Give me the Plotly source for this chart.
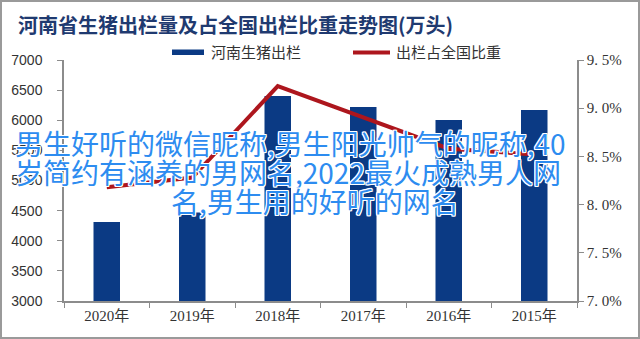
import plotly.graph_objects as go

categories = ["2020年", "2019年", "2018年", "2017年", "2016年", "2015年"]
output_vals = [4311, 4470, 6402, 6220, 6005, 6171]
share_vals = [8.18, 8.28, 9.23, 8.90, 8.58, 8.52]
left_ticks = [3000, 3500, 4000, 4500, 5000, 5500, 6000, 6500, 7000]
right_ticks = [7.0, 7.5, 8.0, 8.5, 9.0, 9.5]
right_labels = ["7. 0%", "7. 5%", "8. 0%", "8. 5%", "9. 0%", "9. 5%"]

W, H = 640, 339
L, R, T, B = 64, 577, 60, 301


def px(x):
    return (x - L) / (R - L)


def py(y):
    return (B - y) / (B - T)


BAR_C = "#0b3a84"
LINE_C = "#ad161d"
AX_C = "#8c8c8c"

fig = go.Figure()
fig.add_trace(go.Bar(x=categories, y=output_vals, marker=dict(color=BAR_C, line=dict(width=0)),
                     width=0.31, name="河南生猪出栏", showlegend=False))
fig.add_trace(go.Scatter(x=categories, y=share_vals, yaxis="y2", mode="lines",
                         line=dict(color=LINE_C, width=4), name="出栏占全国比重", showlegend=False))

shapes = []
# outer frame
shapes.append(dict(type="rect", xref="paper", yref="paper", x0=px(1), x1=px(639), y0=py(1), y1=py(338),
                   line=dict(color="#9a9a9a", width=2), fillcolor="rgba(0,0,0,0)", layer="above"))
# legend swatches
shapes.append(dict(type="rect", xref="paper", yref="paper", x0=px(172), x1=px(204), y0=py(49.5), y1=py(55),
                   line=dict(width=0), fillcolor=BAR_C))
shapes.append(dict(type="line", xref="paper", yref="paper", x0=px(353), x1=px(390), y0=py(52.5), y1=py(52.5),
                   line=dict(color=LINE_C, width=4)))

ann = []
ann.append(dict(text="<b>河南省生猪出栏量及占全国出栏比重走势图(万头)</b>", xref="paper", yref="paper",
                x=px(16), y=py(24), xanchor="left", yanchor="middle", showarrow=False,
                font=dict(family="Noto Sans CJK SC", size=20, color="#1f3a70")))
ann.append(dict(text="河南生猪出栏", xref="paper", yref="paper", x=px(209), y=py(52), xanchor="left",
                yanchor="middle", showarrow=False,
                font=dict(family="Noto Sans CJK SC", size=15, color="#333333")))
ann.append(dict(text="出栏占全国比重", xref="paper", yref="paper", x=px(394), y=py(52), xanchor="left",
                yanchor="middle", showarrow=False,
                font=dict(family="Noto Sans CJK SC", size=15, color="#333333")))

wm_font = dict(family="Noto Sans CJK SC", size=28, color="#2d8cf0",
               shadow="1px 1px 0 #fff, -1px -1px 0 #fff, 1px -1px 0 #fff, -1px 1px 0 #fff, 0 1px 0 #fff, 0 -1px 0 #fff, 1px 0 0 #fff, -1px 0 0 #fff")
wm_lines = [("男生好听的微信昵称,男生阳光帅气的昵称,40", 13, 143),
            ("岁简约有涵养的男网名,2022最火成熟男人网", 13, 172),
            ("名,男生用的好听的网名", 169, 201)]
for t, x0, y0 in wm_lines:
    ann.append(dict(text=t, xref="paper", yref="paper", x=px(x0), y=py(y0), xanchor="left",
                    yanchor="middle", showarrow=False, font=wm_font))

fig.update_layout(
    width=W, height=H,
    margin=dict(l=L, r=W - R, t=T, b=H - B, pad=0),
    paper_bgcolor="white", plot_bgcolor="white",
    xaxis=dict(type="category", showgrid=False, showline=True, linecolor=AX_C, linewidth=1.5,
               ticks="outside", tickson="boundaries", ticklen=5, tickcolor=AX_C,
               tickfont=dict(family="Liberation Serif, Noto Sans CJK SC", size=15, color="#333333"),
               zeroline=False),
    yaxis=dict(range=[3000, 7000], tickvals=left_ticks, showgrid=False, showline=True, linecolor=AX_C,
               linewidth=1.5, ticks="outside", ticklen=5, tickcolor=AX_C, zeroline=False,
               tickfont=dict(family="Liberation Sans", size=14, color="#333333"), ticklabelstandoff=12),
    yaxis2=dict(range=[7.0, 9.5], overlaying="y", side="right", tickvals=right_ticks, ticktext=right_labels,
                showgrid=False, showline=True, linecolor=AX_C, linewidth=1.5, ticks="outside", ticklen=5,
                tickcolor=AX_C, zeroline=False,
                tickfont=dict(family="Liberation Serif", size=15, color="#333333")),
    shapes=shapes,
    annotations=ann,
    showlegend=False,
)

fig.write_html("out.html")
